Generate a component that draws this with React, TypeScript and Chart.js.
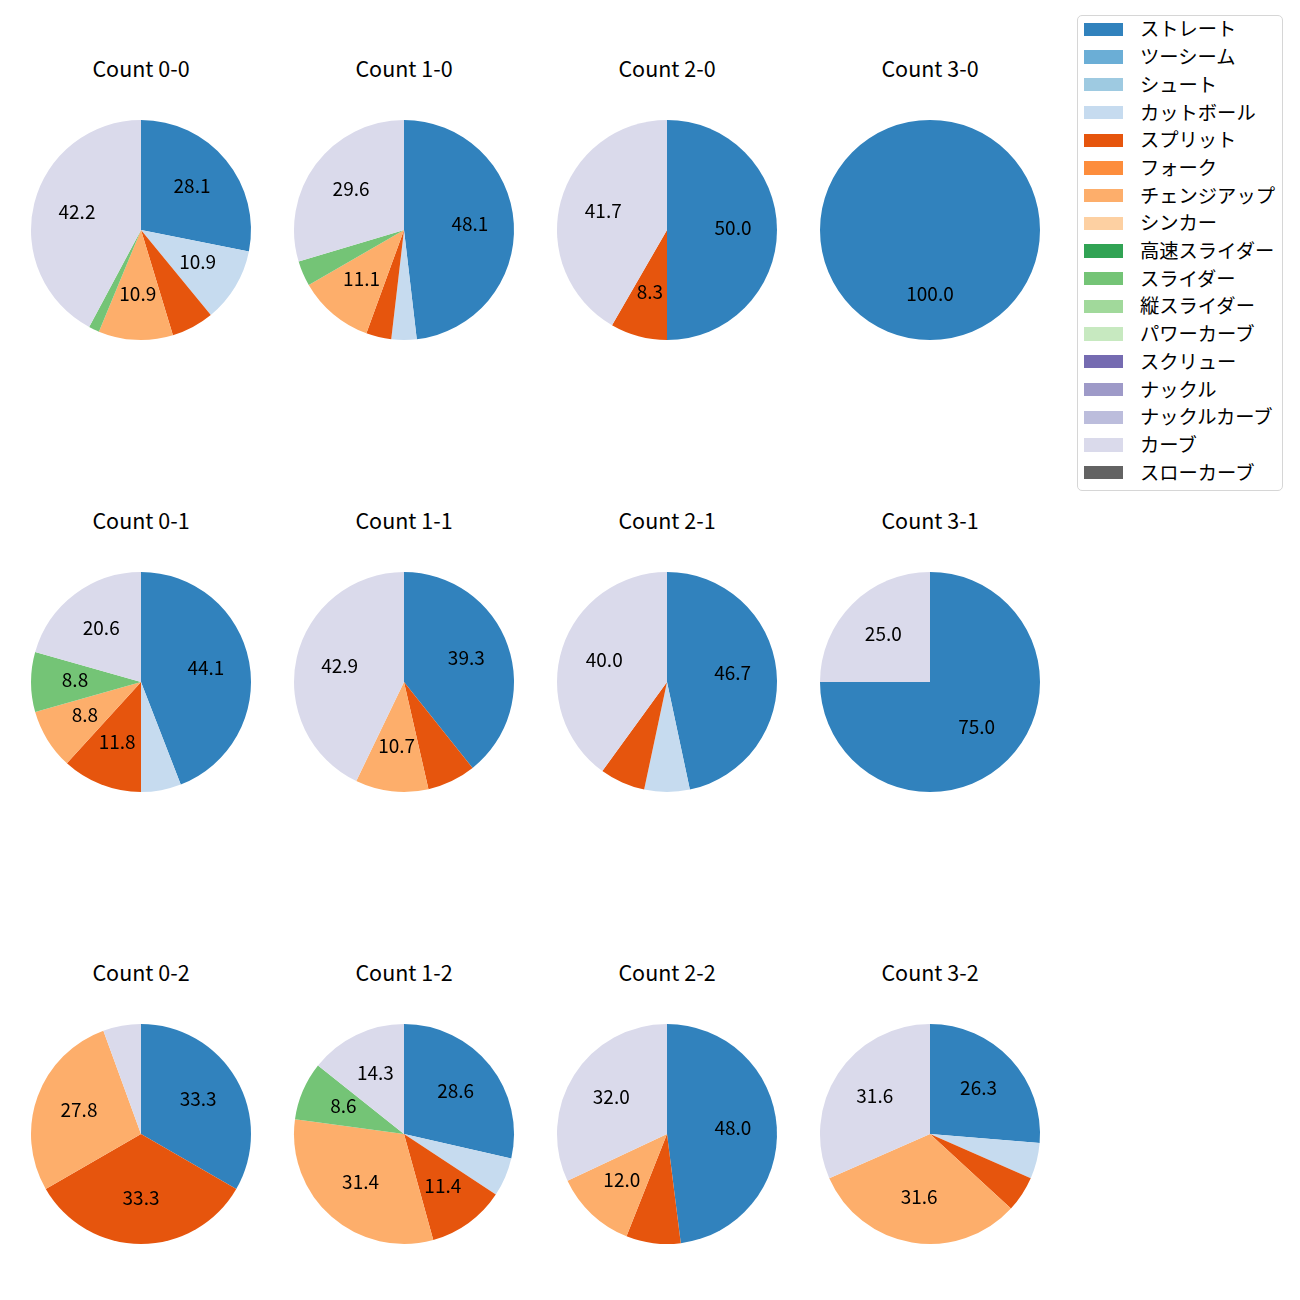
import React, { useEffect, useRef } from "react";
import { Chart, registerables } from "chart.js";

Chart.register(...registerables);

// ---- data ----
const pitchTypes = [
  "ストレート", "ツーシーム", "シュート", "カットボール", "スプリット", "フォーク",
  "チェンジアップ", "シンカー", "高速スライダー", "スライダー", "縦スライダー",
  "パワーカーブ", "スクリュー", "ナックル", "ナックルカーブ", "カーブ", "スローカーブ",
];
const pitchColors = [
  "#3182bd", "#6baed6", "#9ecae1", "#c6dbef", "#e6550d", "#fd8d3c",
  "#fdae6b", "#fdd0a2", "#31a354", "#74c476", "#a1d99b",
  "#c7e9c0", "#756bb1", "#9e9ac8", "#bcbddc", "#dadaeb", "#636363",
];
const countTitles = [
  "Count 0-0", "Count 1-0", "Count 2-0", "Count 3-0",
  "Count 0-1", "Count 1-1", "Count 2-1", "Count 3-1",
  "Count 0-2", "Count 1-2", "Count 2-2", "Count 3-2",
];
//               St Tw Sh Ct Sp Fk Ch Si HS Sl VS PC Sc Kn KC Cu SC
const count00 = [18, 0, 0, 7, 4, 0, 7, 0, 0, 1, 0, 0, 0, 0, 0, 27, 0];
const count10 = [13, 0, 0, 1, 1, 0, 3, 0, 0, 1, 0, 0, 0, 0, 0, 8, 0];
const count20 = [6, 0, 0, 0, 1, 0, 0, 0, 0, 0, 0, 0, 0, 0, 0, 5, 0];
const count30 = [1, 0, 0, 0, 0, 0, 0, 0, 0, 0, 0, 0, 0, 0, 0, 0, 0];
const count01 = [15, 0, 0, 2, 4, 0, 3, 0, 0, 3, 0, 0, 0, 0, 0, 7, 0];
const count11 = [11, 0, 0, 0, 2, 0, 3, 0, 0, 0, 0, 0, 0, 0, 0, 12, 0];
const count21 = [7, 0, 0, 1, 1, 0, 0, 0, 0, 0, 0, 0, 0, 0, 0, 6, 0];
const count31 = [3, 0, 0, 0, 0, 0, 0, 0, 0, 0, 0, 0, 0, 0, 0, 1, 0];
const count02 = [6, 0, 0, 0, 6, 0, 5, 0, 0, 0, 0, 0, 0, 0, 0, 1, 0];
const count12 = [10, 0, 0, 2, 4, 0, 11, 0, 0, 3, 0, 0, 0, 0, 0, 5, 0];
const count22 = [12, 0, 0, 0, 2, 0, 3, 0, 0, 0, 0, 0, 0, 0, 0, 8, 0];
const count32 = [5, 0, 0, 1, 1, 0, 6, 0, 0, 0, 0, 0, 0, 0, 0, 6, 0];
const countValues = [
  count00, count10, count20, count30,
  count01, count11, count21, count31,
  count02, count12, count22, count32,
];

// ---- layout ----
const colCenters = [141, 404, 667, 930];
const rowCenters = [230, 682, 1134];
const titleRows = [69, 521, 973];
const RADIUS = 110;
const FONT = '"Noto Sans CJK JP", "Noto Sans", sans-serif';

const pctLabelPlugin = {
  id: "pctLabels",
  afterDatasetsDraw(chart: any) {
    const ctx = chart.ctx as CanvasRenderingContext2D;
    const meta = chart.getDatasetMeta(0);
    const data = chart.data.datasets[0].data as number[];
    const total = data.reduce((a, b) => a + b, 0);
    ctx.save();
    ctx.font = `19px ${FONT}`;
    ctx.fillStyle = "#000";
    ctx.textAlign = "center";
    ctx.textBaseline = "middle";
    meta.data.forEach((arc: any, i: number) => {
      const pct = (data[i] / total) * 100;
      if (pct <= 8.05) return;
      const p = arc.getProps(["x", "y", "startAngle", "endAngle", "outerRadius"], true);
      const mid = (p.startAngle + p.endAngle) / 2;
      const r = p.outerRadius * 0.6;
      ctx.fillText(pct.toFixed(1), p.x + Math.cos(mid) * r, p.y + Math.sin(mid) * r - 2);
    });
    ctx.restore();
  },
};

function PieCell({ values, cx, cy }: { values: number[]; cx: number; cy: number }) {
  const ref = useRef<HTMLCanvasElement>(null);
  useEffect(() => {
    const size = RADIUS * 2 + 20;
    const chart = new Chart(ref.current!, {
      type: "pie",
      data: {
        labels: pitchTypes,
        datasets: [{ data: values, backgroundColor: pitchColors, borderWidth: 0 }],
      },
      options: {
        responsive: false,
        animation: false,
        layout: { padding: (size - RADIUS * 2) / 2 },
        plugins: { legend: { display: false }, tooltip: { enabled: false } },
      },
      plugins: [pctLabelPlugin],
    });
    return () => chart.destroy();
  }, [values]);
  const size = RADIUS * 2 + 20;
  return (
    <canvas
      ref={ref}
      width={size}
      height={size}
      style={{ position: "absolute", left: cx - size / 2, top: cy - size / 2, width: size, height: size }}
    />
  );
}

export default function App() {
  return (
    <div
      style={{
        position: "absolute",
        left: 0,
        top: 0,
        width: 1300,
        height: 1300,
        background: "#fff",
        fontFamily: FONT,
        overflow: "hidden",
      }}
    >
      {countValues.map((vals, i) => {
        const cx = colCenters[i % 4];
        const row = Math.floor(i / 4);
        return (
          <React.Fragment key={i}>
            <div
              style={{
                position: "absolute",
                left: cx - 100,
                width: 200,
                top: titleRows[row] - 16,
                height: 30,
                lineHeight: "30px",
                textAlign: "center",
                fontSize: 21.5,
                color: "#000",
                whiteSpace: "nowrap",
              }}
            >
              {countTitles[i]}
            </div>
            <PieCell values={vals} cx={cx} cy={rowCenters[row]} />
          </React.Fragment>
        );
      })}
      <div
        style={{
          position: "absolute",
          left: 1077,
          top: 15,
          width: 204,
          height: 474,
          border: "1px solid #d6d6d6",
          borderRadius: 5,
          boxSizing: "content-box",
        }}
      />
      {pitchTypes.map((name, i) => {
        const yc = 29.4 + i * 27.7;
        return (
          <React.Fragment key={name}>
            <div
              style={{
                position: "absolute",
                left: 1084,
                top: yc - 6.7,
                width: 39,
                height: 13.4,
                background: pitchColors[i],
              }}
            />
            <div
              style={{
                position: "absolute",
                left: 1140,
                top: yc - 15,
                height: 28,
                lineHeight: "28px",
                fontSize: 19.3,
                color: "#000",
                whiteSpace: "nowrap",
              }}
            >
              {name}
            </div>
          </React.Fragment>
        );
      })}
    </div>
  );
}
